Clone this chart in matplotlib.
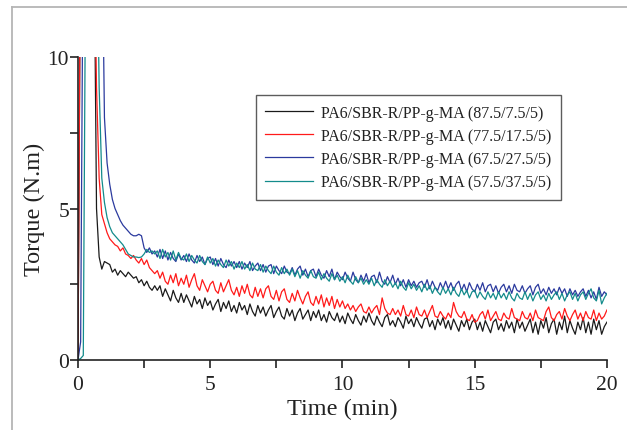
import numpy as np
import matplotlib
matplotlib.use("Agg")
import matplotlib.pyplot as plt
from matplotlib.lines import Line2D

# sampling times (min)
time_min = np.round(np.arange(0, 20.05, 0.1), 1)

labels = [
    "PA6/SBR-R/PP-g-MA (87.5/7.5/5)",
    "PA6/SBR-R/PP-g-MA (77.5/17.5/5)",
    "PA6/SBR-R/PP-g-MA (67.5/27.5/5)",
    "PA6/SBR-R/PP-g-MA (57.5/37.5/5)",
]
colors = ["#1a1a1a", "#ff1a1a", "#2b3a9e", "#138b8b"]

torque_875 = [
    0.00, 15, 15, 15, 15, 15, 15, 5.0, 3.4, 3.0,
    3.25, 3.2, 3.15, 2.9, 3.0, 2.8, 2.95, 2.85, 2.75, 2.9,
    2.8, 2.7, 2.75, 2.55, 2.65, 2.45, 2.6, 2.4, 2.3, 2.45,
    2.3, 2.45, 2.1, 2.35, 2.15, 1.95, 2.3, 2.05, 1.9, 2.2,
    1.9, 2.15, 1.95, 1.75, 2.1, 1.85, 2.0, 1.7, 2.05, 1.8,
    1.95, 1.65, 1.85, 2.0, 1.6, 1.9, 1.7, 1.95, 1.6, 1.8,
    1.55, 1.9, 1.65, 1.8, 1.5, 1.85, 1.6, 1.45, 1.8, 1.55,
    1.75, 1.45, 1.65, 1.8, 1.4, 1.6, 1.75, 1.45, 1.35, 1.7,
    1.45, 1.65, 1.3, 1.55, 1.7, 1.35, 1.5, 1.65, 1.3, 1.6,
    1.4, 1.65, 1.3, 1.5, 1.25, 1.6, 1.4, 1.3, 1.55, 1.25,
    1.45, 1.2, 1.55, 1.35, 1.2, 1.5, 1.3, 1.15, 1.45, 1.25,
    1.55, 1.3, 1.15, 1.45, 1.25, 1.1, 1.4, 1.5, 1.15, 1.3,
    1.1, 1.4, 1.25, 1.05, 1.45, 1.2, 1.35, 1.1, 1.4, 1.2,
    1.05, 1.35, 1.4, 1.1, 1.3, 1.0, 1.35, 1.15, 1.4, 1.05,
    1.3, 1.0, 1.35, 1.15, 0.95, 1.3, 1.1, 1.35, 1.0, 1.25,
    1.35, 1.0, 1.25, 0.95, 1.3, 1.1, 0.9, 1.25, 1.35, 1.0,
    1.2, 0.95, 1.3, 1.05, 1.25, 0.9, 1.35, 1.05, 1.25, 0.95,
    1.15, 1.35, 0.9, 1.25, 0.85, 1.3, 1.05, 1.4, 0.9, 1.2,
    1.35, 0.85, 1.25, 1.0, 1.45, 0.9, 1.3, 1.05, 0.85, 1.25,
    1.0, 1.4, 0.9, 1.25, 0.85, 1.35, 1.0, 1.3, 0.85, 1.1,
    1.25,
]

torque_775 = [
    0.05, 15, 15, 15, 15, 15, 15, 9.0, 6.0, 4.8,
    4.5, 4.2, 4.0, 3.9, 3.8, 3.75, 3.6, 3.7, 3.5, 3.45,
    3.35, 3.45, 3.3, 3.2, 3.35, 3.15, 3.3, 3.05, 2.95, 2.85,
    2.95, 2.7, 2.9, 2.6, 2.5, 2.8, 2.55, 2.85, 2.45, 2.7,
    2.5, 2.8, 2.4, 2.65, 2.85, 2.45, 2.3, 2.65, 2.45, 2.25,
    2.5, 2.6, 2.3, 2.2, 2.55, 2.25, 2.45, 2.65, 2.3, 2.15,
    2.4, 2.1, 2.45, 2.2, 2.5, 2.15, 2.05, 2.4, 2.1, 2.35,
    2.05, 2.35, 2.45, 2.1, 2.0, 2.3, 1.95, 2.25, 2.35, 2.0,
    1.9, 2.2, 1.95, 2.3, 2.05, 1.85, 2.1, 2.25, 1.9, 1.8,
    2.1, 1.85, 2.15, 1.75, 2.05, 1.8, 2.1, 1.7, 2.0, 1.75,
    1.95, 1.7, 1.85, 1.65, 1.8, 1.6, 1.75, 1.85, 1.6, 1.55,
    1.75, 1.55, 1.7, 1.8, 1.5, 2.05, 1.7, 1.55, 1.5, 1.7,
    1.5, 1.65, 1.45, 1.8, 1.5, 1.45, 1.65, 1.4, 1.75, 1.5,
    1.45, 1.65, 1.4, 1.6, 1.8, 1.45, 1.4, 1.6, 1.45, 1.35,
    1.55, 1.4, 1.9, 1.6, 1.45, 1.4, 1.6, 1.35, 1.3, 1.5,
    1.25, 1.3, 1.5, 1.6, 1.35, 1.65, 1.3, 1.45, 1.6, 1.35,
    1.3, 1.55, 1.4, 1.35, 1.7, 1.4, 1.35, 1.3, 1.6, 1.4,
    1.35, 1.55, 1.3, 1.65, 1.4, 1.35, 1.3, 1.6, 1.75, 1.4,
    1.3, 1.5, 1.6, 1.35, 1.7, 1.45, 1.3, 1.5, 1.65, 1.35,
    1.55, 1.3, 1.6, 1.4, 1.35, 1.65, 1.3, 1.55, 1.35, 1.45,
    1.65,
]

torque_675 = [
    0.0, 0.6, 15, 15, 15, 15, 15, 15, 15, 15,
    8.0, 6.5, 5.8, 5.3, 5.0, 4.8, 4.6, 4.45, 4.35, 4.25,
    4.15, 4.1, 4.1, 4.15, 4.1, 3.7, 3.55, 3.7, 3.5, 3.6,
    3.4, 3.65, 3.35, 3.6, 3.3, 3.55, 3.35, 3.25, 3.5, 3.3,
    3.45, 3.25, 3.5, 3.3, 3.2, 3.45, 3.25, 3.4, 3.15, 3.35,
    3.4, 3.15, 3.35, 3.1, 3.35, 3.15, 3.05, 3.3, 3.1, 3.25,
    3.05, 3.25, 3.0, 3.2, 3.05, 3.25, 2.95, 3.1, 3.2, 2.95,
    3.15, 2.9, 3.1, 3.15, 2.85, 3.1, 2.95, 2.85, 3.1, 2.9,
    2.85, 3.05, 2.8, 3.0, 3.1, 2.8, 3.0, 2.75, 2.95, 3.0,
    2.75, 3.0, 2.8, 2.7, 2.95, 2.75, 3.0, 2.65, 2.9, 2.75,
    2.65, 2.9, 2.7, 2.6, 2.9, 2.65, 2.55, 2.8, 2.6, 2.85,
    2.55, 2.75, 2.8, 2.55, 2.9, 2.6, 2.5, 2.75, 2.55, 2.8,
    2.5, 2.7, 2.45, 2.65, 2.4, 2.65, 2.45, 2.6, 2.4, 2.55,
    2.6, 2.4, 2.65, 2.35, 2.6, 2.4, 2.3, 2.55, 2.35, 2.6,
    2.35, 2.55, 2.3, 2.5, 2.6, 2.3, 2.5, 2.25, 2.55, 2.35,
    2.25, 2.5, 2.3, 2.55, 2.25, 2.45, 2.5, 2.25, 2.45, 2.2,
    2.4, 2.5, 2.25, 2.45, 2.2, 2.5, 2.3, 2.25, 2.45, 2.2,
    2.35, 2.45, 2.15, 2.4, 2.5, 2.2, 2.35, 2.15, 2.4, 2.2,
    2.35, 2.15, 2.4, 2.2, 2.35, 2.1, 2.35, 2.15, 2.3, 2.1,
    2.25, 2.35, 2.1, 2.3, 2.05, 2.25, 2.0, 2.4, 2.1, 2.25,
    2.15,
]

torque_575 = [
    0.0, 0.05, 0.15, 15, 15, 15, 15, 15, 9.0, 6.0,
    5.2, 4.7, 4.4, 4.2, 4.1, 4.0, 3.9, 3.8, 3.65, 3.5,
    3.45, 3.4, 3.4, 3.38, 3.4, 3.5, 3.65, 3.55, 3.6, 3.5,
    3.6, 3.35, 3.65, 3.4, 3.55, 3.3, 3.6, 3.3, 3.55, 3.35,
    3.3, 3.5, 3.25, 3.45, 3.3, 3.2, 3.45, 3.25, 3.15, 3.4,
    3.2, 3.35, 3.1, 3.3, 3.15, 3.05, 3.3, 3.1, 3.25, 3.0,
    3.2, 3.05, 3.25, 3.0, 3.15, 2.95, 3.2, 3.0, 2.95, 3.15,
    2.9, 3.1, 2.95, 2.85, 3.1, 2.9, 2.8, 3.05, 2.85, 3.0,
    2.8, 3.0, 2.75, 2.95, 2.7, 2.95, 2.8, 2.7, 2.95, 2.75,
    2.7, 2.9, 2.65, 2.85, 2.7, 2.6, 2.85, 2.65, 2.8, 2.6,
    2.75, 2.55, 2.8, 2.6, 2.5, 2.75, 2.55, 2.7, 2.5, 2.65,
    2.5, 2.7, 2.45, 2.65, 2.5, 2.4, 2.65, 2.45, 2.6, 2.4,
    2.55, 2.35, 2.6, 2.4, 2.3, 2.55, 2.35, 2.5, 2.3, 2.45,
    2.25, 2.5, 2.3, 2.45, 2.2, 2.4, 2.25, 2.15, 2.4, 2.2,
    2.35, 2.15, 2.4, 2.2, 2.1, 2.35, 2.15, 2.3, 2.05, 2.25,
    2.3, 2.05, 2.25, 2.1, 2.0, 2.25, 2.05, 2.2, 2.0, 2.25,
    2.05, 2.2, 2.0, 2.25, 2.05, 1.95, 2.2, 2.05, 2.0, 2.25,
    2.0, 2.2, 1.95, 2.15, 2.25, 2.0, 2.15, 1.95, 2.2, 2.0,
    2.15, 2.25, 2.0, 2.2, 1.95, 2.15, 2.25, 2.0, 2.2, 1.95,
    2.15, 2.25, 2.0, 2.2, 2.35, 2.05, 1.95, 2.3, 1.85, 2.05,
    2.2,
]

series = [torque_875, torque_775, torque_675, torque_575]

plt.rcParams['font.family'] = ['Liberation Serif', 'DejaVu Serif']

fig = plt.figure(figsize=(6.27, 4.31), dpi=100)
ax = fig.add_axes([0.1244, 0.1624, 0.8436, 0.703])

for vals, lab, col in zip(series, labels, colors):
    ax.plot(time_min, vals, color=col, lw=0.9, label=lab)

ax.set_xlim(0, 20)
ax.set_ylim(0, 10)
ax.set_xticks([0, 5, 10, 15, 20])
ax.set_xticks([2.5, 7.5, 12.5, 17.5], minor=True)
ax.set_yticks([0, 5, 10])
ax.set_yticks([2.5, 7.5], minor=True)
ax.spines['top'].set_visible(False)
ax.spines['right'].set_visible(False)
for s in ['left', 'bottom']:
    ax.spines[s].set_linewidth(1.2)
    ax.spines[s].set_color('#222222')
ax.tick_params(axis='x', which='major', pad=5)
ax.tick_params(axis='y', which='major', pad=1)
ax.tick_params(which='both', direction='out', length=5.5, width=1.2, colors='#222222')
ax.tick_params(which='major', labelsize=15.5)
ax.set_xlabel('Time (min)', fontsize=17.5, labelpad=3, color='#222222')
ax.set_ylabel('Torque (N.m)', fontsize=17.5, labelpad=2, color='#222222')

leg = ax.legend(loc='upper left', bbox_to_anchor=(0.408, 0.777), bbox_transform=fig.transFigure,
                fontsize=11.5, frameon=True, fancybox=False, edgecolor='#333333',
                handlelength=3.0, handletextpad=0.5, labelspacing=0.45, borderpad=0.6,
                borderaxespad=0)
leg.get_frame().set_linewidth(1.0)
for t in leg.get_texts():
    t.set_color('#222222')

# outer gray frame
fig.add_artist(Line2D([12/627, 1], [1 - 8/431, 1 - 8/431], transform=fig.transFigure, color='#b5b5b5', lw=1.3))
fig.add_artist(Line2D([12/627, 12/627], [0, 1 - 8/431], transform=fig.transFigure, color='#b5b5b5', lw=1.3))

fig.savefig('out.png', dpi=100)
